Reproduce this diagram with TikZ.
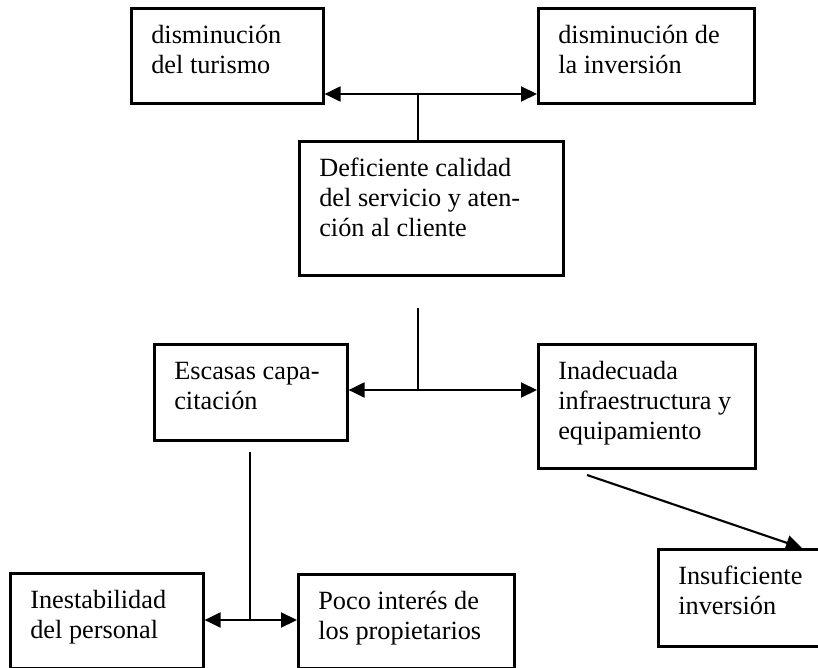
\documentclass[tikz,border=0pt]{standalone}
\usepackage{fontspec}
\setmainfont{Liberation Serif}
\usetikzlibrary{arrows.meta}
\newcommand{\tb}[3]{\parbox[c][#2pt][t]{#1pt}{\begin{tabular}[t]{@{}l@{}}#3\end{tabular}}}
\begin{document}
\begin{tikzpicture}[x=1pt,y=-1pt,
  box/.style={draw, line width=2.6pt, anchor=north west, inner xsep=20pt, inner ysep=14pt,
    font=\fontsize{26.3}{30}\selectfont},
  conn/.style={line width=2.1pt},
  dbl/.style={conn, {Triangle[length=16pt,width=15pt]}-{Triangle[length=16pt,width=15pt]}},
  sgl/.style={conn, -{Triangle[length=16pt,width=15pt]}}]
\useasboundingbox (0,0) rectangle (818,668);
% boxes
\node[box] (b1) at (130,7)   {\tb{152}{67}{disminución\\del turismo}};
\node[box] (b2) at (537,7)   {\tb{176}{67}{disminución de\\la inversión}};
\node[box] (b3) at (298,140) {\tb{224}{106}{Deficiente calidad\\del servicio y aten-\\ción al cliente}};
\node[box] (b4) at (153,343) {\tb{153}{68}{Escasas capa-\\citación}};
\node[box] (b5) at (537,343) {\tb{177}{96}{Inadecuada\\infraestructura y\\equipamiento}};
\node[box] (b6) at (9,572)   {\tb{153}{67}{Inestabilidad\\del personal}};
\node[box] (b7) at (297,573) {\tb{176}{66}{Poco interés de\\los propietarios}};
\node[box] (b8) at (657,548) {\tb{150}{69}{Insuficiente\\inversión}};
% junction coordinates
\coordinate (j1) at (418,94);
\coordinate (t2) at (418,308);
\coordinate (j2) at (418,390);
\coordinate (t3) at (250,452);
\coordinate (j3) at (250,620);
\coordinate (s4) at (587,475);
\coordinate (e4) at (802,548);
% connectors
\draw[dbl] (j1 -| b1.east) -- (j1 -| b2.west);
\draw[conn] (j1) -- (j1 |- b3.north);
\draw[conn] (t2) -- (j2);
\draw[dbl] (j2 -| b4.east) -- (j2 -| b5.west);
\draw[conn] (t3) -- (j3);
\draw[dbl] (j3 -| b6.east) -- (j3 -| b7.west);
\draw[sgl] (s4) -- (e4);
\end{tikzpicture}
\end{document}
